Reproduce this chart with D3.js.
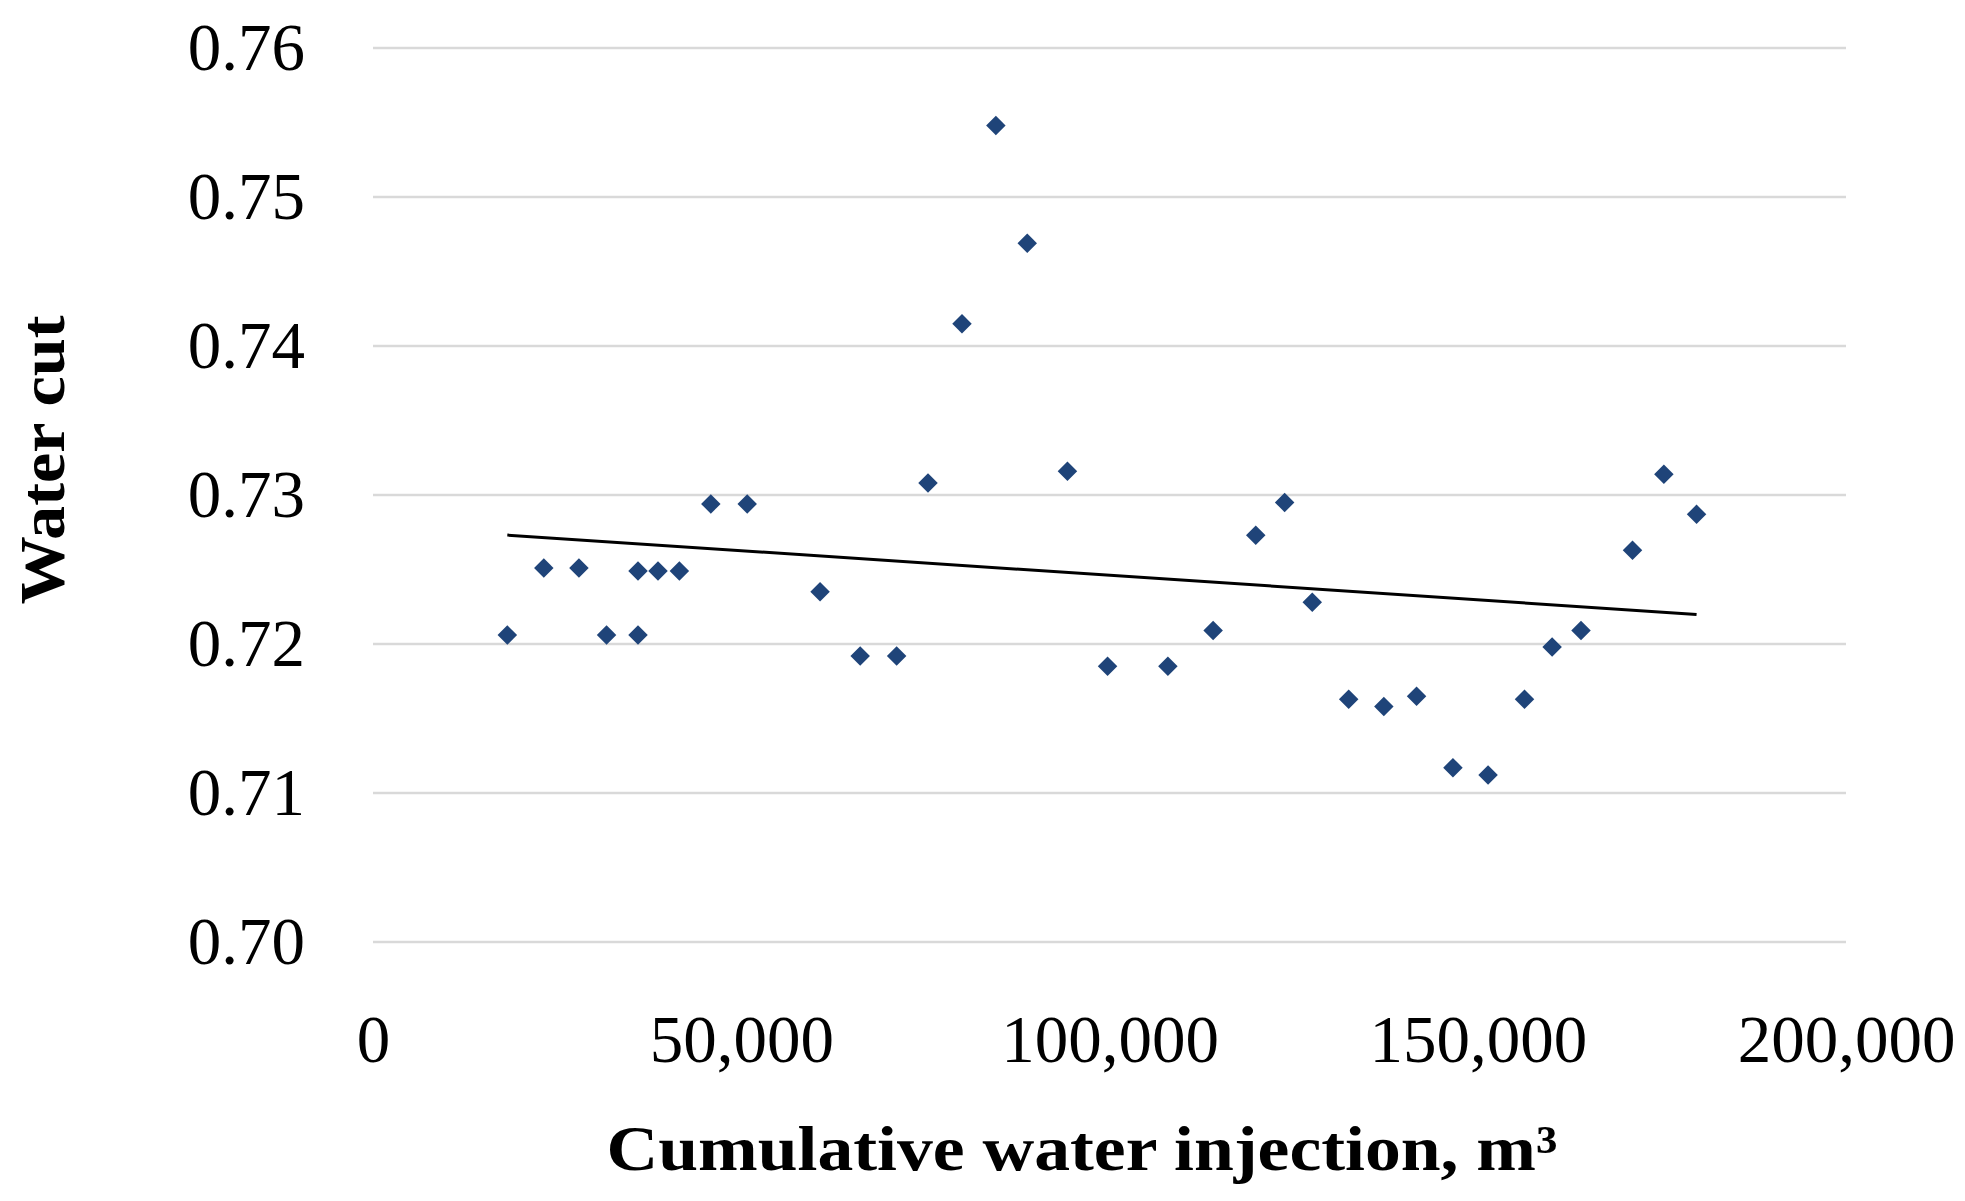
<!DOCTYPE html>
<html>
<head>
<meta charset="utf-8">
<script src="https://cdn.jsdelivr.net/npm/d3@7"></script>
<style>
    body { margin: 0; background: #fff; }
    svg { display: block; }
</style>
</head>
<body>
<svg id="chart"></svg>
<script>
// cumulative water injection, m3
const injection = [
    18240, 23190, 27960, 31710, 35980, 35980, 38700, 41600, 45870, 50810,
    60700, 66150, 71100, 75360, 79970, 84570, 88830, 94290, 99740, 107930,
    114070, 119860, 123780, 127530, 132480, 137250, 141690, 146630, 151400, 156350,
    160100, 164020, 171010, 175270, 179710
];
// water cut
const waterCut = [
    0.7206, 0.7251, 0.7251, 0.7206, 0.7206, 0.7249, 0.7249, 0.7249, 0.7294, 0.7294,
    0.7235, 0.7192, 0.7192, 0.7308, 0.7415, 0.7548, 0.7469, 0.7316, 0.7185, 0.7185,
    0.7209, 0.7273, 0.7295, 0.7228, 0.7163, 0.7158, 0.7165, 0.7117, 0.7112, 0.7163,
    0.7198, 0.7209, 0.7263, 0.7314, 0.7287
];
const xTicks = [0, 50000, 100000, 150000, 200000];
const yTicks = [0.70, 0.71, 0.72, 0.73, 0.74, 0.75, 0.76];

const width = 1965, height = 1201;
const svg = d3.select("#chart").attr("width", width).attr("height", height);

const x = d3.scaleLinear().domain([0, 200000]).range([373, 1846]);
const y = d3.scaleLinear().domain([0.70, 0.76]).range([942, 48]);

// gridlines
svg.append("g")
    .selectAll("line")
    .data(yTicks)
    .join("line")
    .attr("x1", x(0))
    .attr("x2", x(200000))
    .attr("y1", d => y(d))
    .attr("y2", d => y(d))
    .attr("stroke", "#d9d9d9")
    .attr("stroke-width", 2.5);

// y axis labels
const yAxis = svg.append("g")
    .attr("transform", `translate(${x(0)},0)`)
    .call(d3.axisLeft(y).tickValues(yTicks).tickFormat(d3.format(".2f")).tickSize(0).tickPadding(68));
yAxis.select(".domain").remove();
yAxis.selectAll("text")
    .attr("font-family", "Liberation Serif, Times New Roman, serif")
    .attr("font-size", 67)
    .attr("fill", "#000");

// x axis labels
const xAxis = svg.append("g")
    .attr("transform", `translate(0,${y(0.70)})`)
    .call(d3.axisBottom(x).tickValues(xTicks).tickFormat(d3.format(",")).tickSize(0).tickPadding(72));
xAxis.select(".domain").remove();
xAxis.selectAll("text")
    .attr("font-family", "Liberation Serif, Times New Roman, serif")
    .attr("font-size", 67)
    .attr("fill", "#000");

// linear trend line (least squares)
const n = injection.length;
const mx = d3.mean(injection), my = d3.mean(waterCut);
let sxy = 0, sxx = 0;
for (let i = 0; i < n; ++i) {
    sxy += (injection[i] - mx) * (waterCut[i] - my);
    sxx += (injection[i] - mx) * (injection[i] - mx);
}
const slope = sxy / sxx;
const intercept = my - slope * mx;
const xExt = d3.extent(injection);

svg.append("line")
    .attr("x1", x(xExt[0]))
    .attr("x2", x(xExt[1]))
    .attr("y1", y(intercept + slope * xExt[0]))
    .attr("y2", y(intercept + slope * xExt[1]))
    .attr("stroke", "#000")
    .attr("stroke-width", 3);

// diamond markers
const diamond = d3.symbol().type(d3.symbolSquare).size(190);
svg.append("g")
    .selectAll("path")
    .data(injection)
    .join("path")
    .attr("d", diamond)
    .attr("transform", (d, i) => `translate(${x(d)},${y(waterCut[i])}) rotate(45)`)
    .attr("fill", "#1f4479");

// axis titles
svg.append("text")
    .attr("x", 1082)
    .attr("y", 1170)
    .attr("text-anchor", "middle")
    .attr("font-family", "Liberation Serif, Times New Roman, serif")
    .attr("font-weight", "bold")
    .attr("font-size", 64)
    .attr("textLength", 951)
    .attr("lengthAdjust", "spacingAndGlyphs")
    .text("Cumulative water injection, m³");

svg.append("text")
    .attr("transform", "translate(64,460) rotate(-90)")
    .attr("text-anchor", "middle")
    .attr("font-family", "Liberation Serif, Times New Roman, serif")
    .attr("font-weight", "bold")
    .attr("font-size", 64)
    .attr("textLength", 289)
    .attr("lengthAdjust", "spacingAndGlyphs")
    .text("Water cut");
</script>
</body>
</html>
